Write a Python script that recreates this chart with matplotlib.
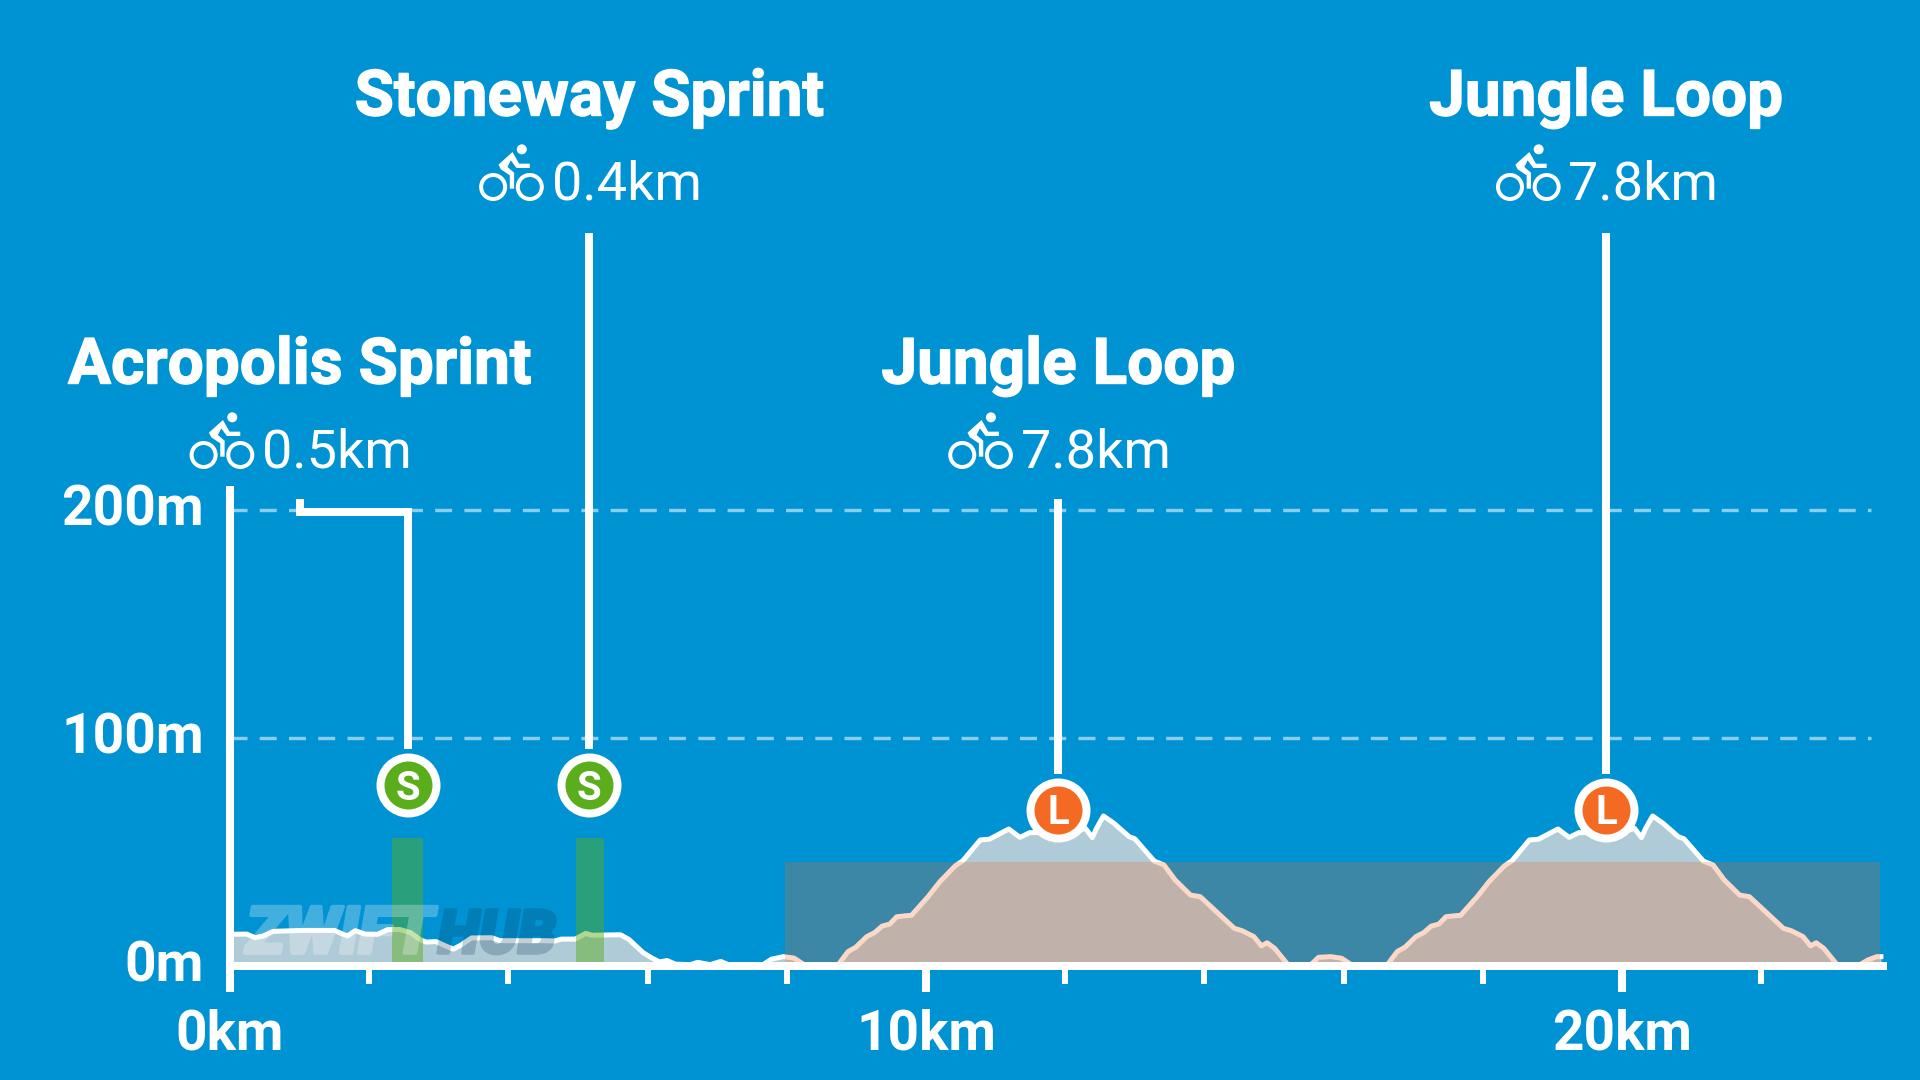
import matplotlib
matplotlib.use("Agg")
import matplotlib.pyplot as plt
from matplotlib.patches import Circle, Polygon
from matplotlib.transforms import Affine2D, blended_transform_factory as blend
import matplotlib.patheffects as pe

plt.rcParams['font.family'] = ['Roboto', 'DejaVu Sans']

# ---- data ----
km = [0.0, 0.24, 0.36, 0.48, 0.62, 1.04, 1.50, 1.62, 1.69, 1.80, 1.94, 2.12, 2.27, 2.44, 2.59, 2.74, 2.82, 2.96,
      3.09, 3.21, 3.32, 3.47, 3.76, 3.88, 4.50, 4.67, 4.76, 4.96, 5.11, 5.20, 5.61, 5.73, 5.93, 6.05, 6.17, 6.28,
      6.40, 6.61, 6.72, 6.90, 7.05, 7.16, 7.66, 7.78, 7.95, 8.10, 8.25, 8.74,
      8.88, 8.99, 9.15, 9.26, 9.37, 9.48, 9.58, 9.73, 9.79, 10.03, 10.20, 10.42, 10.53, 10.78, 10.91, 11.19, 11.35,
      11.49, 11.63, 11.79, 12.01, 12.29, 12.39, 12.45, 12.55, 12.70, 12.92, 13.00, 13.28, 13.42, 13.58, 13.80, 13.94,
      14.43, 14.54, 14.71, 14.82, 14.90, 15.01, 15.20, 15.53, 15.64, 15.81, 15.97, 16.11, 16.63,
      16.77, 16.88, 17.04, 17.15, 17.26, 17.37, 17.47, 17.62, 17.68, 17.92, 18.09, 18.31, 18.42, 18.67, 18.80, 19.08,
      19.24, 19.38, 19.52, 19.68, 19.90, 20.18, 20.28, 20.34, 20.44, 20.59, 20.81, 20.89, 21.17, 21.31, 21.47, 21.69,
      21.83, 22.32, 22.43, 22.60, 22.71, 22.79, 22.90, 23.09, 23.42, 23.53, 23.66, 23.72]
elev = [13.9, 14.0, 12.4, 13.2, 15.2, 15.6, 15.6, 14.0, 13.2, 15.5, 14.0, 13.9, 16.0, 16.0, 14.7, 11.4, 10.5, 10.7,
        8.9, 7.4, 9.2, 12.3, 12.4, 11.1, 11.1, 11.0, 11.8, 11.8, 14.3, 13.5, 13.7, 11.7, 6.0, 3.7, 1.8, 2.4,
        0.8, 0.6, 1.6, 0.6, 2.0, 0.6, 0.6, 3.0, 4.1, 3.5, 0.6, 0.6,
        6.3, 8.2, 12.9, 14.6, 17.5, 18.4, 21.6, 22.1, 22.2, 30.4, 37.0, 43.9, 46.2, 55.3, 55.6, 60.1, 56.4,
        58.5, 58.5, 56.4, 57.5, 60.4, 56.3, 60.4, 65.8, 62.6, 56.7, 55.8, 46.0, 44.3, 37.7, 31.1, 30.4,
        16.5, 15.5, 12.9, 8.8, 10.2, 7.7, 0.6, 0.6, 3.8, 4.1, 3.4, 0.6, 0.6,
        6.3, 8.2, 12.9, 14.6, 17.5, 18.4, 21.6, 22.1, 22.2, 30.4, 37.0, 43.9, 46.2, 55.3, 55.6, 60.1,
        56.4, 58.5, 58.5, 56.4, 57.5, 60.4, 56.3, 60.4, 65.8, 62.6, 56.7, 55.8, 46.0, 44.3, 37.7, 31.1,
        30.4, 16.5, 15.5, 12.9, 8.8, 10.2, 7.7, 0.6, 0.6, 2.6, 4.1, 4.1]

names = ["Acropolis Sprint", "Stoneway Sprint", "Jungle Loop", "Jungle Loop"]
lengths = ["0.5km", "0.4km", "7.8km", "7.8km"]
kinds = ["S", "S", "L", "L"]
pin_km = [2.56, 5.16, 11.90, 19.77]
label_km = [1.0, 5.16, 11.90, 19.77]
sprint_zones = [(2.33, 2.78), (4.97, 5.37)]
loop_zone = (7.97, 23.70)
sprint_top = 56
loop_top = 45.6
y_ticks = [0, 100, 200]
y_labels = ["0m", "100m", "200m"]
x_major = [0, 10, 20]
x_major_labels = ["0km", "10km", "20km"]
x_minor = [2, 4, 6, 8, 12, 14, 16, 18, 22]

# ---- style ----
BG = '#0093d3'
GREEN = '#5aad1b'
ORANGE = '#f56a23'
FILL = '#b0cbd8'
W = 'white'
PX = 0.72  # points per pixel at dpi 100

fig = plt.figure(figsize=(19.2, 10.8), dpi=100, facecolor=BG)
L, R, T, B = 230, 1887, 486, 966
ax = fig.add_axes([L / 1920, 1 - B / 1080, (R - L) / 1920, (B - T) / 1080], facecolor='none')
ax.set_xlim(0, (R - L) / 69.6)
ax.set_ylim(0, (B - T) / 2.28)

px = Affine2D().scale(1, -1).translate(0, 1080)
xpx = blend(ax.transData, px)

# grid
ax.hlines([100, 200], 0, 23.58, colors=W, alpha=0.55, lw=3.4 * PX, linestyles=[(0, (5.0, 3.6))], zorder=1)

# profile
ax.fill_between(km, 0, elev, color=FILL, lw=0, zorder=2)
ax.plot(km, elev, color=W, lw=5 * PX, solid_joinstyle='round', zorder=3)

# climb and sprint zones
ax.axvspan(loop_zone[0], loop_zone[1], 0, loop_top / ax.get_ylim()[1], color='#f26722', alpha=0.25, lw=0, zorder=4)
for a, b in sprint_zones:
    ax.axvspan(a, b, 0, sprint_top / ax.get_ylim()[1], color=GREEN, alpha=0.47, lw=0, zorder=4)


def fade(alpha):
    def f(im, dpi):
        out = im.copy()
        out[..., 3] *= alpha
        return out, 0, 0
    return f


# watermark: heavy letters flattened to one alpha
wm1 = ax.text(246, 953, "ZWIFT", transform=px, fontsize=47, fontweight='black', style='italic', color=W,
              va='baseline', ha='left', zorder=5, path_effects=[pe.Stroke(linewidth=2.6, foreground=W)])
wm1.set_agg_filter(fade(0.27))
wm2 = ax.text(438, 953, "HUB", transform=px, fontsize=43.5, fontweight='black', style='italic', color='#0b3c5d',
              va='baseline', ha='left', zorder=5, path_effects=[pe.Stroke(linewidth=2.6, foreground='#0b3c5d')])
wm2.set_agg_filter(fade(0.24))

# axes
for s in ['top', 'right']:
    ax.spines[s].set_visible(False)
for s in ['left', 'bottom']:
    ax.spines[s].set_color(W)
    ax.spines[s].set_linewidth(8 * PX)
    ax.spines[s].set_zorder(6)
    ax.spines[s].set_capstyle('butt')
ax.set_xticks(x_major, x_major_labels)
ax.set_xticks(x_minor, minor=True)
ax.set_yticks(y_ticks, y_labels)
ax.tick_params(axis='x', which='major', length=26 * PX, width=8 * PX, color=W, labelcolor=W, labelsize=39.5, pad=12)
ax.tick_params(axis='x', which='minor', length=18 * PX, width=6 * PX, color=W)
ax.tick_params(axis='y', length=0, labelcolor=W, labelsize=39.7, pad=26 * PX)
for t in ax.get_xticklabels() + ax.get_yticklabels():
    t.set_fontweight('bold')
for t in ax.get_yticklabels():
    t.set_transform(t.get_transform() + Affine2D().translate(0, -0.6))
    t.set_verticalalignment('center')

# icon geometry, pixels relative to (group centre, text baseline)
BODY = [(88, 98), (130, 60), (150, 95), (182, 95), (182, 108), (142, 108), (125, 85), (115, 105), (135, 122),
        (135, 170), (122, 170), (122, 130), (95, 112)]


def bike(cx, base):
    tr = Affine2D().translate(cx, base) + px

    def p(zx, zy):
        return (-120 + zx / 3, zy / 3 - 68)
    for c in [(72, 165), (182, 165)]:
        fig.add_artist(Circle(p(*c), 12, fc='none', ec=W, lw=4 * PX, transform=tr, zorder=8))
    fig.add_artist(Circle(p(158, 52), 5, fc=W, ec='none', transform=tr, zorder=8))
    fig.add_artist(Polygon([p(*q) for q in BODY], closed=True, fc=W, ec='none', transform=tr, zorder=8))


TITLE_BASE = [383.5, 115.5, 383.5, 115.5]
ROW_BASE = [468, 200, 468, 200]
STEM_TOP = [499, 233, 499, 233]
STEM_BOT = [749, 749, 774, 774]
MARK_Y = [785, 785, 810, 810]
MARK_C = {'S': GREEN, 'L': ORANGE}

for i, name in enumerate(names):
    cx = ax.transData.transform((label_km[i], 0))[0]
    ax.text(label_km[i], TITLE_BASE[i], name, transform=xpx, color=W, fontsize=46, fontweight='bold',
            ha='center', va='baseline', clip_on=False, zorder=8,
            path_effects=[pe.withStroke(linewidth=1.0, foreground=W)])
    ax.text(cx + 109.5 - 147, ROW_BASE[i], lengths[i], transform=px, color=W, fontsize=39,
            ha='left', va='baseline', clip_on=False, zorder=8)
    bike(cx, ROW_BASE[i])
    if label_km[i] != pin_km[i]:
        ax.plot([label_km[i], label_km[i], pin_km[i], pin_km[i]],
                [STEM_TOP[i], 512, 512, STEM_BOT[i]], transform=xpx, color=W, lw=8 * PX, clip_on=False,
                solid_joinstyle='miter', solid_capstyle='butt', zorder=7)
    else:
        ax.plot([pin_km[i], pin_km[i]], [STEM_TOP[i], STEM_BOT[i]], transform=xpx, color=W, lw=8 * PX,
                clip_on=False, solid_capstyle='butt', zorder=7)
    ax.plot([pin_km[i]], [MARK_Y[i]], 'o', transform=xpx, ms=56 * PX, mfc=MARK_C[kinds[i]], mec=W, mew=8 * PX,
            clip_on=False, zorder=8)
    ax.text(pin_km[i], MARK_Y[i] + 14.5, kinds[i], transform=xpx, color=W, fontsize=29, fontweight='bold',
            ha='center', va='baseline', clip_on=False, zorder=9)

fig.savefig('out.png', dpi=100, facecolor=BG)
